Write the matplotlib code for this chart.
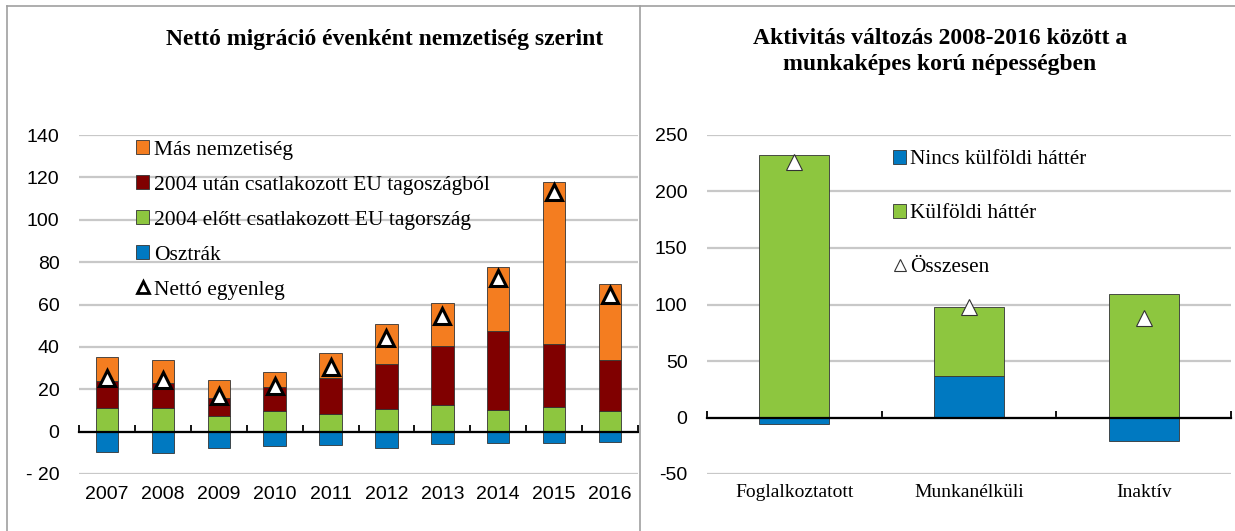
import matplotlib
matplotlib.use("Agg")
import matplotlib.pyplot as plt
from matplotlib.lines import Line2D
from matplotlib.patches import Patch
import numpy as np

# ---------------- data ----------------
years = ["2007", "2008", "2009", "2010", "2011", "2012", "2013", "2014", "2015", "2016"]
osztrak = [-9.5, -10, -7.5, -7, -6.5, -7.5, -6, -5.5, -5.5, -5]
elott2004 = [11, 11, 7.5, 9.5, 8.5, 10.5, 12.5, 10, 11.5, 9.5]
utan2004 = [13, 12, 8.5, 11.5, 17, 21.5, 28, 37.5, 30, 24.5]
mas = [11, 11, 8.5, 7, 11.5, 19, 20, 30, 76.5, 35.5]
netto = [25.5, 24.5, 17, 21.5, 30.5, 44, 54.5, 72.5, 113, 64.5]

left_yticks = [-20, 0, 20, 40, 60, 80, 100, 120, 140]
left_yticklabels = ["- 20", "0", "20", "40", "60", "80", "100", "120", "140"]

groups = ["Foglalkoztatott", "Munkanélküli", "Inaktív"]
nincs_kulfoldi = [-6, 37, -21]
kulfoldi = [232, 61, 109]
osszesen = [226, 98, 88]

right_yticks = [-50, 0, 50, 100, 150, 200, 250]
right_yticklabels = ["-50", "0", "50", "100", "150", "200", "250"]

# ---------------- style ----------------
C_ORANGE = "#F47D20"
C_RED = "#800000"
C_GREEN = "#8DC63F"
C_BLUE = "#0079C1"
C_GRID = "#C8C8C8"
EDGE = "#333333"

SERIF = ["Liberation Serif", "DejaVu Serif"]
NARROW = ["Liberation Sans Narrow", "Liberation Sans", "DejaVu Sans"]

W, H = 1235, 531
fig = plt.figure(figsize=(W / 100, H / 100), dpi=100)

def fx(px):
    return px / W

def fy(py):
    return 1 - py / H

# frame lines
fig.add_artist(Line2D([fx(7), fx(7)], [fy(531), fy(6)], color="#A0A0A0", lw=1.2, transform=fig.transFigure))
fig.add_artist(Line2D([fx(7), fx(1235)], [fy(6), fy(6)], color="#A0A0A0", lw=1.2, transform=fig.transFigure))
fig.add_artist(Line2D([fx(640), fx(640)], [fy(531), fy(6)], color="#A0A0A0", lw=1.2, transform=fig.transFigure))

def style_axes(ax, ylim, yticks, yticklabels, ncat, labelpad_pt):
    ax.set_ylim(*ylim)
    ax.set_xlim(-0.5, ncat - 0.5)
    for s in ["top", "right", "left"]:
        ax.spines[s].set_visible(False)
    ax.spines["bottom"].set_position(("data", 0))
    ax.spines["bottom"].set_linewidth(1.6)
    ax.spines["bottom"].set_color("black")
    ax.spines["bottom"].set_zorder(5)
    ax.set_yticks(yticks)
    ax.set_yticklabels(yticklabels, family=NARROW, fontsize=14)
    ax.tick_params(axis="y", length=0, pad=14)
    ax.yaxis.grid(True, color=C_GRID, lw=1.6)
    ax.set_axisbelow(True)
    ax.set_xticks(np.arange(ncat))
    ax.set_xticks(np.arange(ncat + 1) - 0.5, minor=True)
    ax.tick_params(axis="x", which="major", length=0, pad=labelpad_pt)
    ax.tick_params(axis="x", which="minor", direction="in", length=5, width=1.3, color="black")

# ---------------- left chart ----------------
axL = fig.add_axes([fx(79), fy(474), fx(638 - 79), (474 - 135) / H])
x = np.arange(len(years))
bw = 0.4
osz = np.array(osztrak)
e04 = np.array(elott2004)
u04 = np.array(utan2004)
ms = np.array(mas)
axL.bar(x, osz, bw, color=C_BLUE, edgecolor=EDGE, lw=0.6, zorder=3)
axL.bar(x, e04, bw, color=C_GREEN, edgecolor=EDGE, lw=0.6, zorder=3)
axL.bar(x, u04, bw, bottom=e04, color=C_RED, edgecolor=EDGE, lw=0.6, zorder=3)
axL.bar(x, ms, bw, bottom=e04 + u04, color=C_ORANGE, edgecolor=EDGE, lw=0.6, zorder=3)
axL.plot(x, netto, ls="none", marker="^", ms=12, mfc="white", mec="black", mew=2.2, zorder=6)
style_axes(axL, (-20, 140), left_yticks, left_yticklabels, len(years), 39)
axL.set_xticklabels(years, family=NARROW, fontsize=14)

hL = [
    Patch(facecolor=C_ORANGE, edgecolor=EDGE, lw=0.6),
    Patch(facecolor=C_RED, edgecolor=EDGE, lw=0.6),
    Patch(facecolor=C_GREEN, edgecolor=EDGE, lw=0.6),
    Patch(facecolor=C_BLUE, edgecolor=EDGE, lw=0.6),
    Line2D([], [], ls="none", marker="^", ms=9, mfc="white", mec="black", mew=2),
]
lL = ["Más nemzetiség", "2004 után csatlakozott EU tagoszágból",
      "2004 előtt csatlakozott EU tagország", "Osztrák", "Nettó egyenleg"]
legL = fig.legend(hL, lL, loc="upper left", bbox_to_anchor=(fx(136), fy(140)),
                  frameon=False, prop={"family": SERIF, "size": 15.5},
                  handlelength=0.62, handleheight=0.62, handletextpad=0.2,
                  labelspacing=0.72, borderpad=0, borderaxespad=0)

fig.text(fx(385), fy(39), "Nettó migráció évenként nemzetiség szerint", ha="center", va="center",
         family=SERIF, fontsize=17, fontweight="bold")

# ---------------- right chart ----------------
axR = fig.add_axes([fx(707), fy(474), fx(1231 - 707), (474 - 135) / H])
xr = np.arange(len(groups))
nk = np.array(nincs_kulfoldi)
kf = np.array(kulfoldi)
axR.bar(xr, nk, bw, color=C_BLUE, edgecolor=EDGE, lw=0.6, zorder=3)
axR.bar(xr, kf, bw, bottom=np.where(nk > 0, nk, 0), color=C_GREEN, edgecolor=EDGE, lw=0.6, zorder=3)
axR.plot(xr, osszesen, ls="none", marker="^", ms=12, mfc="white", mec="#333333", mew=0.8, zorder=6)
style_axes(axR, (-50, 250), right_yticks, right_yticklabels, len(groups), 48)
axR.set_xticklabels(groups, family=SERIF, fontsize=14)

hR = [
    Patch(facecolor=C_BLUE, edgecolor=EDGE, lw=0.6),
    Patch(facecolor=C_GREEN, edgecolor=EDGE, lw=0.6),
    Line2D([], [], ls="none", marker="^", ms=8, mfc="white", mec="#333333", mew=0.8),
]
lR = ["Nincs külföldi háttér", "Külföldi háttér", "Összesen"]
legR = fig.legend(hR, lR, loc="upper left", bbox_to_anchor=(fx(893), fy(150)),
                  frameon=False, prop={"family": SERIF, "size": 15.3},
                  handlelength=0.62, handleheight=0.62, handletextpad=0.2,
                  labelspacing=1.62, borderpad=0, borderaxespad=0)

fig.text(fx(940), fy(38), "Aktivitás változás 2008-2016 között a", ha="center", va="center",
         family=SERIF, fontsize=17, fontweight="bold")
fig.text(fx(940), fy(65), "munkaképes korú népességben", ha="center", va="center",
         family=SERIF, fontsize=17, fontweight="bold")

fig.savefig("out.png", dpi=100)
